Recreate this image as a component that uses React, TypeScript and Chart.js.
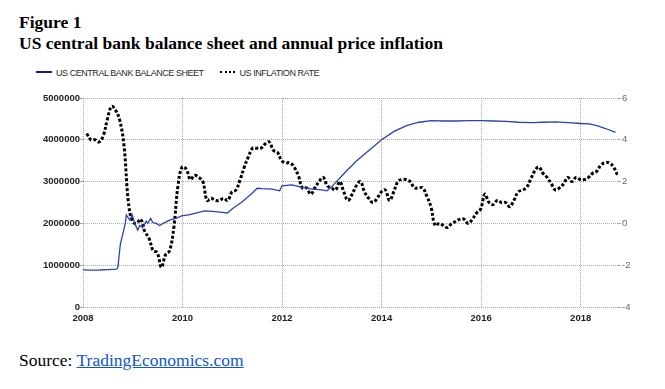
import React, { useEffect, useRef } from "react";
import { Chart, registerables } from "chart.js";

Chart.register(...registerables);

// ---- Data ----
const titleLines = ["Figure 1", "US central bank balance sheet and annual price inflation"];
const sourceLabel = "Source: ";
const sourceLink = "TradingEconomics.com";
const balanceLabel = "US CENTRAL BANK BALANCE SHEET";
const inflationLabel = "US INFLATION RATE";

const xTickYears = [2008, 2010, 2012, 2014, 2016, 2018];
const leftTicks = [0, 1000000, 2000000, 3000000, 4000000, 5000000];
const rightTicks = [-4, -2, 0, 2, 4, 6];

// Fed balance sheet (USD millions) at decimal-year dates
const balanceYears = [
  2008.0, 2008.17, 2008.33, 2008.5, 2008.67, 2008.7, 2008.75, 2008.8, 2008.85, 2008.87,
  2008.9, 2008.94, 2008.99, 2009.04, 2009.1, 2009.14, 2009.2, 2009.27, 2009.3, 2009.36,
  2009.4, 2009.47, 2009.54, 2009.64, 2009.74, 2009.87, 2009.98, 2010.15, 2010.3, 2010.45,
  2010.6, 2010.75, 2010.9, 2011.0, 2011.2, 2011.4, 2011.5, 2011.6, 2011.8, 2011.95,
  2012.0, 2012.2, 2012.4, 2012.6, 2012.8, 2012.9, 2013.0, 2013.25, 2013.5, 2013.75,
  2014.0, 2014.25, 2014.5, 2014.75, 2015.0, 2015.25, 2015.5, 2015.75, 2016.0, 2016.25,
  2016.5, 2016.75, 2017.0, 2017.25, 2017.5, 2017.75, 2018.0, 2018.17, 2018.33, 2018.5,
  2018.7,
];
const balanceValues = [
  890000, 880000, 885000, 895000, 905000, 940000, 1500000, 1750000, 2000000, 2200000,
  2150000, 2080000, 2200000, 2000000, 1840000, 1950000, 1900000, 2050000, 2000000, 2120000,
  2020000, 2000000, 1950000, 2020000, 2080000, 2120000, 2180000, 2210000, 2260000, 2300000,
  2290000, 2270000, 2250000, 2350000, 2520000, 2720000, 2840000, 2830000, 2820000, 2780000,
  2900000, 2920000, 2860000, 2820000, 2800000, 2780000, 2880000, 3200000, 3500000, 3750000,
  4000000, 4200000, 4340000, 4420000, 4460000, 4450000, 4450000, 4460000, 4460000, 4450000,
  4440000, 4420000, 4410000, 4420000, 4430000, 4410000, 4390000, 4380000, 4340000, 4270000,
  4180000,
];

// US CPI inflation, % y/y, monthly from Jan 2008 to Sep 2018
const inflationStartYear = 2008;
const inflationValues = [
  4.3, 4.0, 4.0, 3.9, 4.2, 5.0, 5.6, 5.4, 4.9, 3.7, 1.1, 0.1,
  0.0, 0.2, -0.4, -0.7, -1.3, -1.4, -2.1, -1.5, -1.3, -0.2, 1.8, 2.7,
  2.6, 2.1, 2.3, 2.2, 2.0, 1.1, 1.2, 1.1, 1.1, 1.2, 1.1, 1.5,
  1.6, 2.1, 2.7, 3.2, 3.6, 3.6, 3.6, 3.8, 3.9, 3.5, 3.4, 3.0,
  2.9, 2.9, 2.7, 2.3, 1.7, 1.7, 1.4, 1.7, 2.0, 2.2, 1.8, 1.7,
  1.6, 2.0, 1.5, 1.1, 1.4, 1.8, 2.0, 1.5, 1.2, 1.0, 1.2, 1.5,
  1.6, 1.1, 1.5, 2.0, 2.1, 2.1, 2.0, 1.7, 1.7, 1.7, 1.3, 0.8,
  -0.1, 0.0, -0.1, -0.2, 0.0, 0.1, 0.2, 0.2, 0.0, 0.2, 0.5, 0.7,
  1.4, 1.0, 0.9, 1.1, 1.0, 1.0, 0.8, 1.1, 1.5, 1.6, 1.7, 2.1,
  2.5, 2.7, 2.4, 2.2, 1.9, 1.6, 1.7, 1.9, 2.2, 2.0, 2.2, 2.1,
  2.1, 2.2, 2.4, 2.5, 2.8, 2.9, 2.9, 2.7, 2.3,
];

const X_MIN = 2008;
const X_MAX = 2018.75;

const SANS = '"Liberation Sans", Arial, sans-serif';
const SERIF = '"Liberation Serif", "Times New Roman", serif';

function ChartCanvas() {
  const ref = useRef<HTMLCanvasElement | null>(null);
  useEffect(() => {
    if (!ref.current) return;
    const balancePts = balanceYears.map((x, i) => ({ x, y: balanceValues[i] }));
    const inflPts = inflationValues.map((y, i) => ({ x: inflationStartYear + (i + 0.9) / 12, y }));
    const gridColor = "#a8a8a8";
    const chart = new Chart(ref.current, {
      type: "line",
      data: {
        datasets: [
          {
            label: balanceLabel,
            data: balancePts,
            yAxisID: "y",
            borderColor: "#2d42b0",
            borderWidth: 1.3,
            pointRadius: 0,
            tension: 0,
          },
          {
            label: inflationLabel,
            data: inflPts,
            yAxisID: "y1",
            borderColor: "#000000",
            borderWidth: 3,
            borderDash: [3, 2],
            pointRadius: 0,
            tension: 0.4,
          },
        ],
      },
      options: {
        animation: false,
        responsive: false,
        devicePixelRatio: 1,
        layout: { padding: { top: 13, left: 0, right: 0, bottom: 0 } },
        plugins: { legend: { display: false }, tooltip: { enabled: false }, title: { display: false } },
        scales: {
          x: {
            type: "linear",
            min: X_MIN,
            max: X_MAX,
            afterBuildTicks: (s: any) => {
              s.ticks = xTickYears.map((v) => ({ value: v }));
            },
            afterFit: (s: any) => {
              s.height = 33;
            },
            grid: { color: gridColor, lineWidth: 1, drawTicks: false },
            border: { display: false, dash: [1, 1] },
            ticks: {
              padding: 6,
              maxRotation: 0,
              autoSkip: false,
              color: "#222",
              font: { family: SANS, size: 9.5, weight: "bold" },
              callback: (v: any) => String(v),
            },
          },
          y: {
            type: "linear",
            position: "left",
            min: 0,
            max: 5000000,
            afterBuildTicks: (s: any) => {
              s.ticks = leftTicks.map((v) => ({ value: v }));
            },
            afterFit: (s: any) => {
              s.width = 83;
            },
            grid: { color: gridColor, lineWidth: 1, tickLength: 3, tickColor: gridColor },
            border: { display: false, dash: [1, 1] },
            ticks: {
              padding: 0,
              color: "#222",
              font: { family: SANS, size: 9.5, weight: "bold" },
              callback: (v: any) => String(v),
            },
          },
          y1: {
            type: "linear",
            position: "right",
            min: -4,
            max: 6,
            afterBuildTicks: (s: any) => {
              s.ticks = rightTicks.map((v) => ({ value: v }));
            },
            afterFit: (s: any) => {
              s.width = 47;
            },
            grid: { drawOnChartArea: false, color: gridColor, tickLength: 3, tickColor: gridColor },
            border: { display: false, dash: [1, 1] },
            ticks: {
              padding: 1,
              color: "#666",
              font: { family: SANS, size: 9.5 },
              callback: (v: any) => String(v),
            },
          },
        },
      },
    });
    return () => chart.destroy();
  }, []);
  return (
    <canvas
      ref={ref}
      width={665}
      height={255}
      style={{ position: "absolute", left: 0, top: 85, width: 665, height: 255 }}
    />
  );
}

export default function App() {
  return (
    <div style={{ position: "absolute", left: 0, top: 0, width: 665, height: 389, background: "#fff", overflow: "hidden" }}>
      <div style={{ position: "absolute", left: 19, top: 12.4, font: `bold 17.5px ${SERIF}`, lineHeight: "20px", whiteSpace: "nowrap", color: "#000" }}>
        {titleLines[0]}
      </div>
      <div style={{ position: "absolute", left: 19, top: 33.4, font: `bold 17.5px ${SERIF}`, lineHeight: "20px", whiteSpace: "nowrap", color: "#000" }}>
        {titleLines[1]}
      </div>
      {/* legend */}
      <div style={{ position: "absolute", left: 36, top: 70.5, width: 16, height: 2, background: "#1c1c8a" }} />
      <div style={{ position: "absolute", left: 56, top: 67.8, font: `9px ${SANS}`, letterSpacing: "-0.45px", lineHeight: "10px", whiteSpace: "nowrap", color: "#2a2a2a" }}>
        {balanceLabel}
      </div>
      <div style={{ position: "absolute", left: 220, top: 70.5, width: 15, height: 0, borderTop: "2px dotted #000" }} />
      <div style={{ position: "absolute", left: 239.5, top: 67.8, font: `9px ${SANS}`, letterSpacing: "-0.45px", lineHeight: "10px", whiteSpace: "nowrap", color: "#2a2a2a" }}>
        {inflationLabel}
      </div>
      <ChartCanvas />
      <div style={{ position: "absolute", left: 19, top: 349.8, font: `17.5px ${SERIF}`, lineHeight: "20px", whiteSpace: "nowrap", color: "#000" }}>
        {sourceLabel}
        <a href="#" style={{ color: "#1155cc", textDecoration: "underline" }}>{sourceLink}</a>
      </div>
    </div>
  );
}
